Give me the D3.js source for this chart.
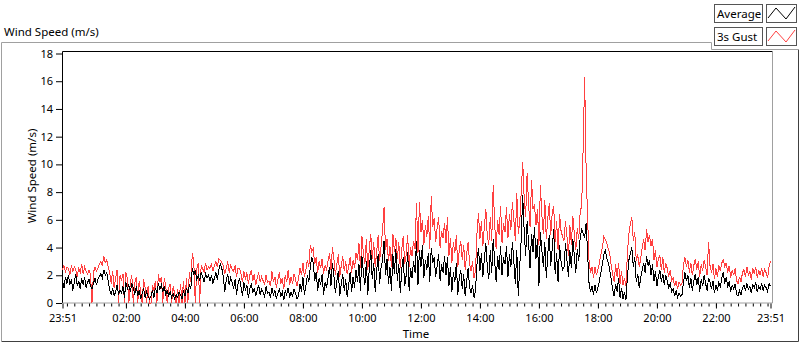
<!DOCTYPE html>
<html>
<head>
<meta charset="utf-8">
<script src="https://cdn.jsdelivr.net/npm/d3@7"></script>
<style>
  html, body { margin: 0; padding: 0; background: #fff; }
  svg { display: block; font-family: "Noto Sans", sans-serif; }
</style>
</head>
<body>
<div id="chart"></div>
<script>
// readings every 3 minutes, starting 23:51
const stepMinutes = 3;

// one row per hour (20 readings), last row has the closing 23:51 value
const avgSpeed = [
  1.6,1.1,1.9,1.4,2.0,1.3,1.7,0.9,1.5,2.1,1.2,1.6,1.0,1.8,1.3,1.9,1.1,1.5,1.7,1.2,
  1.0,1.4,1.8,1.3,1.7,1.9,2.1,1.8,2.4,2.0,2.2,1.6,0.9,0.6,1.1,0.5,0.8,1.3,0.6,0.9,
  0.7,1.2,0.4,1.5,1.0,1.3,0.8,1.4,1.1,0.6,1.2,0.5,0.9,0.3,0.7,1.0,0.4,0.8,0.5,0.3,
  0.5,0.9,0.4,1.1,0.7,1.4,1.0,1.3,0.8,1.2,0.6,0.9,0.5,0.8,0.4,0.7,0.3,0.6,0.4,0.8,
  0.6,0.3,0.9,0.5,1.1,0.7,1.3,1.0,2.5,2.1,2.3,1.7,2.0,1.6,2.2,1.9,1.5,2.1,1.8,2.0,
  1.6,2.0,1.4,1.8,2.2,1.7,2.4,2.8,2.5,1.9,0.8,1.6,2.1,1.3,1.8,1.5,1.0,1.7,0.6,1.4,
  1.8,1.2,0.5,1.5,0.9,1.3,0.4,1.0,1.4,0.7,1.1,0.5,0.9,1.3,0.6,1.0,0.8,0.4,1.2,0.7,
  0.8,0.4,1.1,0.6,0.9,0.3,0.7,1.0,0.5,0.8,0.2,0.9,0.6,1.1,0.4,0.8,0.5,1.0,0.7,0.3,
  0.5,1.4,0.8,1.9,0.6,1.2,2.0,1.5,2.6,3.3,2.9,1.6,2.2,0.9,1.8,1.3,2.1,0.6,1.5,1.1,
  1.8,2.6,1.2,2.9,2.0,0.7,1.6,2.3,0.5,1.4,2.1,0.9,1.7,0.4,1.3,2.2,0.8,1.9,1.1,2.4,
  1.5,2.8,0.9,3.4,2.2,1.3,3.0,0.6,2.5,3.8,1.7,2.9,0.8,2.3,3.5,1.4,2.6,3.1,4.5,2.0,
  3.2,1.4,2.6,0.9,3.5,2.1,3.9,1.6,2.8,0.7,2.4,3.3,1.2,2.0,3.7,0.9,2.5,1.8,3.0,2.2,
  4.5,1.3,3.8,2.6,4.2,1.8,3.1,2.4,3.6,1.5,4.0,2.9,3.3,1.9,2.7,3.5,1.6,2.8,2.2,3.4,
  2.0,3.3,1.2,2.6,0.8,2.2,1.5,2.9,0.6,1.8,2.4,1.0,2.1,0.5,1.6,2.5,1.1,0.7,1.3,0.4,
  0.9,2.8,4.0,2.3,3.6,1.9,3.2,4.3,2.6,1.7,3.8,2.2,4.6,3.0,1.5,3.4,2.4,4.1,2.0,3.3,
  2.8,4.1,1.9,3.5,2.6,4.4,3.0,1.4,3.8,0.5,2.7,4.6,7.8,5.2,3.4,5.9,4.3,2.5,5.0,3.7,
  5.5,3.2,4.6,1.2,5.1,3.8,2.6,4.4,1.8,3.5,4.9,2.7,3.9,5.3,2.1,3.6,1.5,4.2,3.0,2.4,
  2.6,4.3,3.1,1.9,3.8,2.5,4.6,3.4,2.2,3.9,3.0,4.8,5.3,5.0,4.7,5.8,3.6,1.4,0.8,1.2,
  0.6,1.3,0.7,1.1,1.6,2.2,2.8,3.5,3.8,3.2,2.9,2.4,1.7,1.0,0.5,1.4,0.8,1.8,0.4,1.1,
  0.3,0.8,0.2,1.9,3.1,3.6,4.0,2.6,3.3,1.5,2.1,1.1,1.8,2.4,2.9,2.2,3.4,2.7,3.1,2.0,
  2.8,1.6,2.3,1.2,1.9,2.4,1.5,2.1,1.3,2.0,1.6,1.1,1.4,0.8,1.0,0.5,0.9,0.4,0.7,0.5,
  0.6,1.5,2.2,1.6,2.0,1.1,1.8,0.9,1.6,2.1,1.3,1.9,0.8,1.7,1.2,2.0,1.4,0.9,1.8,1.5,
  1.0,1.6,0.7,1.3,0.9,1.5,1.2,1.8,2.2,1.4,1.9,1.1,1.6,0.8,1.3,1.0,1.4,0.6,0.5,0.9,
  0.6,1.1,1.3,0.9,1.4,1.0,1.2,0.7,1.3,1.1,1.5,0.8,1.2,1.0,1.4,0.9,1.3,1.1,0.8,1.4,1.2
];

const gustSpeed = [
  2.4,2.7,2.2,2.6,2.5,2.0,2.7,2.3,2.6,2.4,1.9,2.5,2.2,2.8,2.1,2.6,2.3,2.1,2.4,2.0,
  0.0,2.2,2.6,2.3,2.5,2.8,3.0,2.7,3.4,2.9,3.1,2.6,2.2,1.4,2.3,1.1,1.8,2.4,0.0,2.0,
  1.6,2.1,0.0,2.2,1.8,0.0,1.5,2.0,0.0,1.4,1.9,0.0,1.6,0.8,0.0,1.7,1.1,0.0,1.2,0.0,
  0.0,1.3,0.9,1.6,0.0,2.1,1.5,1.9,0.0,1.8,1.2,0.0,1.1,1.4,0.0,1.2,0.7,0.0,1.0,0.0,
  1.4,0.0,1.6,0.0,1.8,0.0,2.2,1.5,3.6,3.0,0.0,2.4,2.9,0.0,2.7,2.5,2.2,2.9,2.4,2.6,
  2.5,2.8,2.3,2.7,3.0,2.6,3.2,3.1,2.9,2.7,2.1,2.5,3.0,2.2,2.8,2.4,2.3,2.7,1.9,2.5,
  2.5,2.1,1.5,2.3,1.7,2.2,1.4,2.0,2.4,1.6,2.1,1.3,1.8,2.2,1.5,1.9,1.6,1.3,2.0,1.5,
  1.6,1.2,2.3,1.5,1.9,1.1,1.7,2.2,1.4,1.8,1.0,2.0,1.5,2.4,1.3,1.9,1.4,2.1,1.7,1.2,
  1.8,2.5,2.0,2.9,1.9,2.4,3.1,2.6,4.2,3.7,3.9,2.8,3.3,2.2,3.0,2.5,3.2,2.1,2.7,2.4,
  3.0,3.6,2.4,4.0,3.2,2.0,2.8,3.5,1.9,2.7,3.4,2.3,3.0,2.1,2.6,3.3,2.2,3.1,2.5,3.6,
  3.1,4.3,2.5,4.8,3.6,2.8,4.6,2.4,3.9,5.0,3.2,4.4,2.6,3.7,4.9,3.0,4.1,5.3,6.9,3.8,
  4.6,3.0,4.1,2.6,5.0,3.7,4.7,3.2,4.4,2.5,3.9,4.8,2.8,3.5,4.9,2.6,4.0,3.4,4.5,3.9,
  7.2,3.6,7.3,5.1,6.0,4.2,5.6,4.8,6.3,3.9,7.7,5.5,6.1,4.4,5.4,6.2,4.0,5.2,4.7,5.8,
  4.3,6.2,3.4,4.7,2.9,4.4,3.6,4.9,2.6,3.8,4.5,3.1,4.2,2.4,3.5,4.4,2.8,2.3,3.0,1.8,
  2.3,5.0,6.5,4.6,5.9,4.1,5.5,6.8,4.8,4.2,6.2,4.5,8.5,5.7,3.9,6.0,4.9,7.0,4.3,5.8,
  5.1,6.9,4.7,6.4,5.3,7.3,6.0,4.5,7.9,5.0,5.8,8.0,10.2,7.6,6.2,9.4,7.1,5.5,8.9,6.8,
  7.1,5.6,6.8,4.2,8.5,6.3,5.0,7.4,4.6,6.1,7.2,4.9,6.5,7.0,4.4,5.9,3.8,6.4,5.2,4.8,
  4.5,5.9,4.8,3.4,5.6,4.2,6.3,5.0,3.8,5.4,4.6,6.6,7.0,11.3,16.3,9.6,6.1,3.0,2.2,2.6,
  1.8,2.6,2.0,2.4,2.9,3.5,4.0,4.8,4.6,4.3,3.9,3.6,2.7,2.1,1.5,2.8,1.9,2.9,1.4,2.3,
  1.3,1.8,1.2,3.6,5.0,5.7,6.2,4.5,5.1,3.0,3.5,2.6,3.2,4.0,4.6,3.8,5.3,4.4,4.9,4.1,
  4.6,3.1,3.8,2.6,3.2,3.4,2.4,3.3,2.2,2.9,2.5,1.9,2.4,1.6,1.8,1.2,1.6,1.0,1.5,1.3,
  1.4,2.8,3.3,2.6,3.1,2.2,2.9,2.0,2.7,3.2,2.4,3.0,1.9,2.8,2.3,3.1,2.6,2.0,4.4,2.7,
  2.2,2.8,1.7,2.5,1.9,2.7,2.3,2.9,3.1,2.6,2.9,2.2,2.7,1.8,2.4,2.0,2.5,1.6,1.4,1.9,
  1.5,2.2,2.4,1.9,2.6,2.0,2.3,1.7,2.5,2.1,2.6,1.8,2.4,2.0,2.5,1.9,2.4,2.2,1.8,2.6,3.0
];

const yTicks = [0, 2, 4, 6, 8, 10, 12, 14, 16, 18];
const xTickLabels = ["23:51", "02:00", "04:00", "06:00", "08:00", "10:00", "12:00",
                     "14:00", "16:00", "18:00", "20:00", "22:00", "23:51"];
const seriesNames = ["Average", "3s Gust"];
const seriesColors = ["#000000", "#ff4040"];

const width = 800, height = 342;
const plot = {left: 62.5, right: 770.5, top: 53.5, bottom: 303};

const svg = d3.select("#chart").append("svg")
    .attr("width", width)
    .attr("height", height);

// time axis: 24 h from 23:51
const start = new Date(2000, 0, 1, 23, 51);
const end = d3.timeMinute.offset(start, 24 * 60);
const timeAt = i => d3.timeMinute.offset(start, i * stepMinutes);

const x = d3.scaleTime().domain([start, end]).range([plot.left, plot.right]);
const y = d3.scaleLinear().domain([0, 18]).range([plot.bottom, plot.top]);

// outer frame (notched at top right for the legend)
svg.append("path")
    .attr("d", "M1.5,341 L1.5,42.5 L711.5,42.5 L711.5,49.5 L798,49.5")
    .attr("fill", "none").attr("stroke", "#a0a0a0");
svg.append("path")
    .attr("d", "M1.5,341.5 L798.5,341.5 L798.5,49.5")
    .attr("fill", "none").attr("stroke", "#404040");

// chart title
svg.append("text")
    .attr("x", 4).attr("y", 36)
    .attr("font-size", 11.5)
    .text("Wind Speed (m/s)");

// plot frame
svg.append("path")
    .attr("d", `M${plot.left},${plot.bottom} L${plot.left},51.5 L772.5,51.5`)
    .attr("fill", "none").attr("stroke", "#000");
svg.append("path")
    .attr("d", `M772.5,51.5 L772.5,${plot.bottom} L${plot.left},${plot.bottom}`)
    .attr("fill", "none").attr("stroke", "#a0a0a0");

// y axis
const yAxis = svg.append("g")
    .attr("transform", `translate(${plot.left - 0.5},0)`)
    .call(d3.axisLeft(y).tickValues(yTicks).tickSize(6).tickPadding(3));
yAxis.select(".domain").remove();
yAxis.selectAll("text").attr("font-size", 11).attr("fill", "#000").attr("font-family", "Noto Sans");

svg.append("text")
    .attr("transform", "translate(36,176) rotate(-90)")
    .attr("text-anchor", "middle")
    .attr("font-size", 11.5)
    .text("Wind Speed (m/s)");

// x axis: major ticks with labels, minor ticks every 15 min
const majorTimes = xTickLabels.map((l, k) => {
    if (k === 0) return start;
    if (k === xTickLabels.length - 1) return end;
    const [h, m] = l.split(":").map(Number);
    return new Date(2000, 0, 2, h, m);
});
const minorTimes = d3.timeMinute.every(15).range(start, end);

const xMinor = svg.append("g")
    .attr("transform", `translate(0,${plot.bottom + 0.5})`)
    .call(d3.axisBottom(x).tickValues(minorTimes).tickSize(3).tickFormat(""));
xMinor.select(".domain").remove();

const xMajor = svg.append("g")
    .attr("transform", `translate(0,${plot.bottom + 0.5})`)
    .call(d3.axisBottom(x).tickValues(majorTimes).tickSize(5).tickPadding(6)
        .tickFormat((d, k) => xTickLabels[k]));
xMajor.select(".domain").remove();
xMajor.selectAll("text").attr("font-size", 11).attr("fill", "#000").attr("font-family", "Noto Sans");

svg.append("text")
    .attr("x", 416).attr("y", 338)
    .attr("text-anchor", "middle")
    .attr("font-size", 11.5)
    .text("Time");

// data lines
const line = d3.line()
    .x((d, i) => x(timeAt(i)))
    .y(d => y(d));

[gustSpeed, avgSpeed].forEach((values, k) => {
    svg.append("path")
        .datum(values)
        .attr("fill", "none")
        .attr("stroke", k === 0 ? seriesColors[1] : seriesColors[0])
        .attr("stroke-width", 1)
        .attr("shape-rendering", "crispEdges")
        .attr("d", line);
});

// legend
const legend = svg.append("g");
seriesNames.forEach((name, k) => {
    const top = 4 + k * 23;
    legend.append("rect")
        .attr("x", 714.5).attr("y", top + 0.5)
        .attr("width", 48).attr("height", 18)
        .attr("fill", "#fff").attr("stroke", "#555");
    legend.append("text")
        .attr("x", 717).attr("y", top + 13.5)
        .attr("font-size", 11.5)
        .text(name);
    legend.append("rect")
        .attr("x", 766.5).attr("y", top + 0.5)
        .attr("width", 30).attr("height", 18)
        .attr("fill", "#fff").attr("stroke", "#555");
    legend.append("path")
        .attr("d", `M768,${top + 14} L776,${top + 4} L786,${top + 15} L795,${top + 3}`)
        .attr("fill", "none")
        .attr("stroke", seriesColors[k]);
});
</script>
</body>
</html>
